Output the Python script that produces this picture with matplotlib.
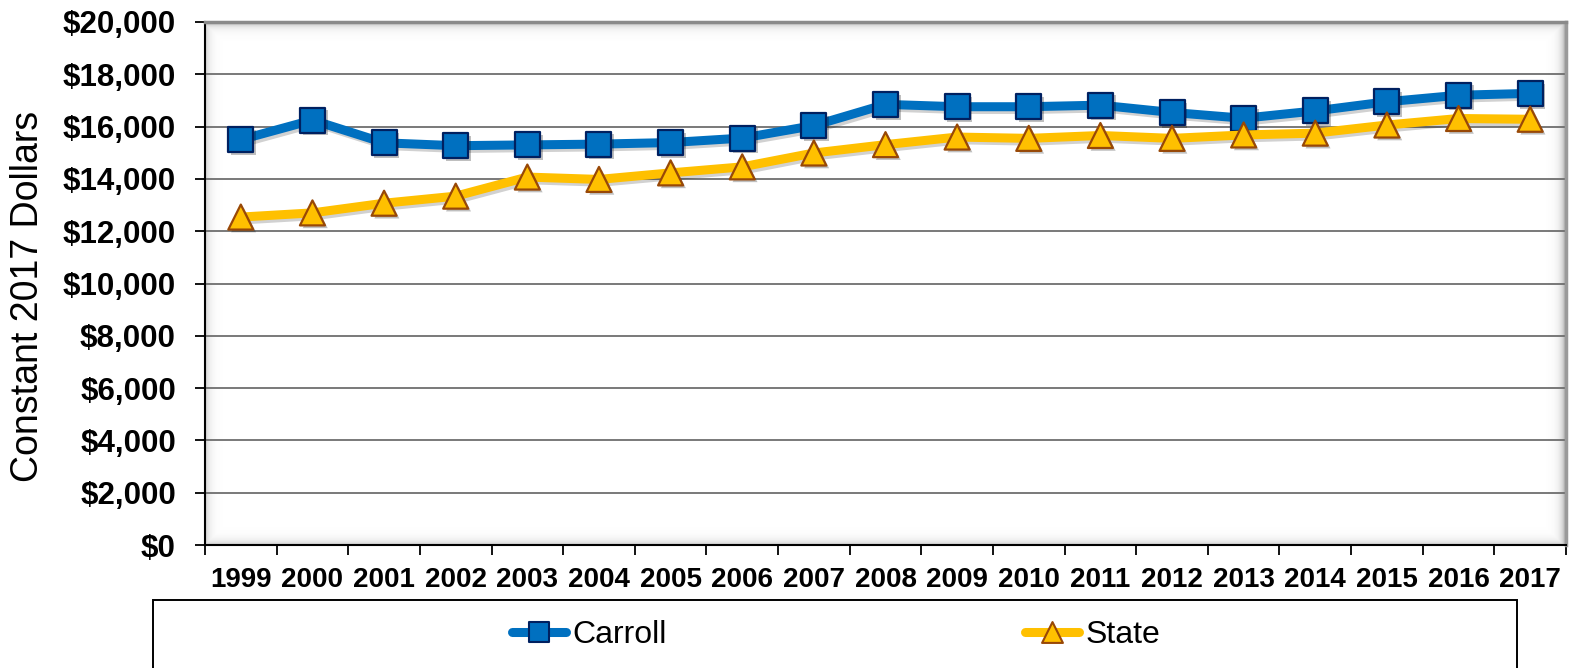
import matplotlib

matplotlib.use("Agg")
import matplotlib.pyplot as plt
import matplotlib.patheffects as pe
import numpy as np
from matplotlib.lines import Line2D
from matplotlib.path import Path
from matplotlib.patches import Rectangle
from matplotlib.ticker import FuncFormatter, MultipleLocator

plt.rcParams["font.family"] = ["Liberation Sans", "DejaVu Sans"]

# Per-pupil spending, constant 2017 dollars
YEARS = [str(y) for y in range(1999, 2018)]
CARROLL = [15500, 16250, 15380, 15270, 15300, 15330, 15390, 15560, 16040, 16850,
           16760, 16760, 16820, 16540, 16320, 16600, 16950, 17200, 17270]
STATE = [12540, 12700, 13070, 13340, 14070, 13980, 14230, 14460, 14990, 15310,
         15600, 15550, 15660, 15550, 15680, 15750, 16060, 16310, 16280]

W, H, DPI = 1574, 668, 100
AX_L, AX_R, AX_T, AX_B = 205, 1566, 22, 545

BLUE, BLUE_EDGE = "#0070C0", "#002060"
GOLD, GOLD_EDGE = "#FFC000", "#984807"

# Excel-style markers: square and upward triangle, centred on their bbox
SQUARE = Path([(-0.5, -0.5), (0.5, -0.5), (0.5, 0.5), (-0.5, 0.5), (-0.5, -0.5)],
              [Path.MOVETO, Path.LINETO, Path.LINETO, Path.LINETO, Path.CLOSEPOLY])
TRIANGLE = Path([(-0.5, -0.5), (0.5, -0.5), (0.0, 0.5), (-0.5, -0.5)],
                [Path.MOVETO, Path.LINETO, Path.LINETO, Path.CLOSEPOLY])

fig = plt.figure(figsize=(W / DPI, H / DPI), dpi=DPI)
ax = fig.add_axes([AX_L / W, 1 - AX_B / H, (AX_R - AX_L) / W, (AX_B - AX_T) / H])

x = np.arange(len(YEARS))
XLIM = (-0.5, len(YEARS) - 0.5)
YLIM = (0, 20000)

# soft inner shadow along the plot-area border
pw, ph = AX_R - AX_L, AX_B - AX_T
yy, xx = np.mgrid[0:ph, 0:pw]
shade = np.maximum.reduce([
    0.45 * np.exp(-yy / 4.0),
    0.30 * np.exp(-(ph - 1 - yy) / 4.0),
    0.30 * np.exp(-xx / 4.0),
    0.55 * np.exp(-(pw - 1 - xx) / 4.0),
])
rgba = np.zeros((ph, pw, 4))
rgba[..., :3] = 0.35
rgba[..., 3] = shade
ax.imshow(rgba, extent=(*XLIM, *YLIM), aspect="auto", zorder=0.5,
          interpolation="bilinear")

shadow_line = [pe.SimpleLineShadow(offset=(2, -2), alpha=0.18, shadow_color="k"),
               pe.Normal()]
shadow_mark = [pe.SimplePatchShadow(offset=(2, -2), alpha=0.25, shadow_rgbFace="k"),
               pe.Normal()]

for vals, col, edge, mk in [(CARROLL, BLUE, BLUE_EDGE, SQUARE),
                            (STATE, GOLD, GOLD_EDGE, TRIANGLE)]:
    ax.plot(x, vals, color=col, lw=6.5, solid_joinstyle="round",
            solid_capstyle="round", zorder=3, path_effects=shadow_line)
    ax.plot(x, vals, ls="none", marker=mk, ms=18, mfc=col, mec=edge, mew=1.6,
            zorder=3, path_effects=shadow_mark)

ax.set_xlim(*XLIM)
ax.set_ylim(*YLIM)

ax.yaxis.set_major_locator(MultipleLocator(2000))
ax.yaxis.set_major_formatter(FuncFormatter(lambda v, _: f"${v:,.0f}"))
ax.yaxis.grid(True, color="#6e6e6e", lw=1.3, zorder=1)
ax.set_axisbelow(True)
ax.tick_params(axis="y", direction="out", length=7, width=1.3, color="black",
               pad=14, labelsize=22.5)
for t in ax.get_yticklabels():
    t.set_fontweight("bold")

ax.set_xticks(x)
ax.set_xticklabels(YEARS, fontsize=20, fontweight="bold")
ax.set_xticks(np.arange(-0.5, len(YEARS)), minor=True)
ax.tick_params(axis="x", which="major", length=0, pad=16)
ax.tick_params(axis="x", which="minor", direction="out", length=7, width=1.3,
               color="black")

ax.spines["left"].set_color("black")
ax.spines["left"].set_linewidth(1.5)
ax.spines["bottom"].set_color("black")
ax.spines["bottom"].set_linewidth(1.5)
ax.spines["top"].set_color("#8a8a8a")
ax.spines["top"].set_linewidth(2.5)
ax.spines["right"].set_color("#9a9a9a")
ax.spines["right"].set_linewidth(2.5)

fig.text(28 / W, 1 - 296 / H, "Constant 2017 Dollars", rotation=90,
         ha="center", va="center", fontsize=27)

# legend box runs off the bottom edge
fig.patches.append(Rectangle((153 / W, -0.1), (1517 - 153) / W, 0.1 + (H - 600) / H,
                             transform=fig.transFigure, fill=False,
                             edgecolor="black", lw=1.4))
handles = [
    Line2D([0], [0], color=BLUE, lw=6.5, solid_capstyle="round", marker=SQUARE,
           ms=15, mfc=BLUE, mec=BLUE_EDGE, mew=1.5, label="Carroll"),
    Line2D([0], [0], color=GOLD, lw=6.5, solid_capstyle="round", marker=TRIANGLE,
           ms=15, mfc=GOLD, mec=GOLD_EDGE, mew=1.5, label="State"),
]
fig.legend(handles=handles, loc="center", bbox_to_anchor=(836 / W, 1 - 635 / H),
           ncol=2, frameon=False, fontsize=23, handlelength=1.7,
           handletextpad=0.2, columnspacing=11.2)

fig.savefig("out.png", dpi=DPI)
